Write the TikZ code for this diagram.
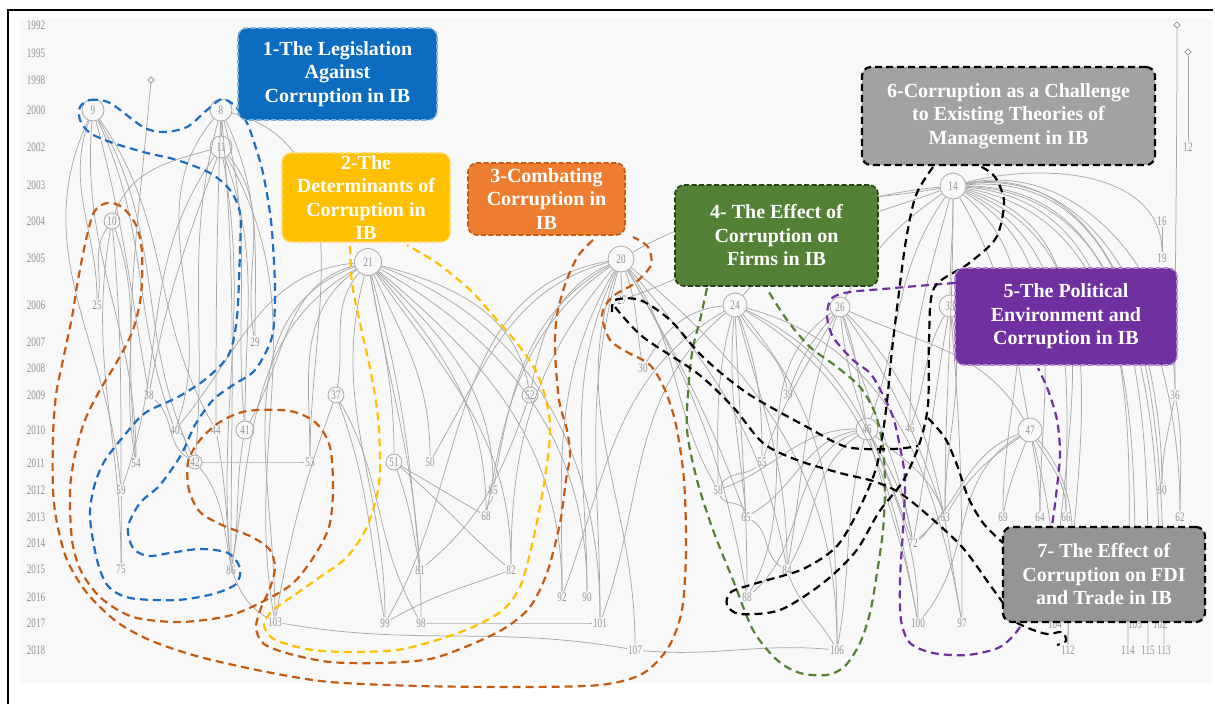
\documentclass[tikz,border=0pt]{standalone}
\usepackage{fontspec}
\setmainfont{Liberation Serif}
\usetikzlibrary{shapes.geometric}
\definecolor{panel}{HTML}{F8F8F8}
\definecolor{lnk}{HTML}{A9A9A9}
\definecolor{lbl}{HTML}{939393}
\definecolor{cblue}{HTML}{1B6FC2}
\definecolor{boxblue}{HTML}{0B6CC0}
\definecolor{cyel}{HTML}{FFC000}
\definecolor{corg}{HTML}{C55A11}
\definecolor{boxorg}{HTML}{ED7D31}
\definecolor{cgrn}{HTML}{548235}
\definecolor{boxgrn}{HTML}{538135}
\definecolor{cpur}{HTML}{7030A0}
\definecolor{boxgry}{HTML}{A2A2A2}
\newcommand{\cnd}[1]{\scalebox{0.7}[1]{#1}}
\tikzset{
EDGE/.style={draw=lnk,line width=0.75pt},
HUB/.style={circle,draw=lnk,line width=0.8pt,fill=panel,inner sep=0pt,minimum size=#1,text=lbl,font=\fontsize{13}{13}\selectfont},
HUB/.default=22pt,
LEAF/.style={inner sep=1pt,text=lbl,font=\fontsize{13}{13}\selectfont},
DOT/.style={diamond,draw=lbl,line width=0.7pt,inner sep=1.6pt},
YEAR/.style={text=lbl,font=\fontsize{13}{13}\selectfont},
CLUSTER/.style={draw=#1,line width=2.2pt,dash pattern=on 8pt off 5pt,line cap=butt},
BOX/.style={rounded corners=9pt,fill=#1,line width=1.6pt,dash pattern=on 5pt off 2.5pt,inner sep=0pt},
BOXTEXT/.style={text=white,align=center,font=\fontsize{20}{23.5}\selectfont\bfseries},
}
\begin{document}
\begin{tikzpicture}[x=1pt,y=1pt]
\useasboundingbox (0,-704) rectangle (1215,0);
\fill[white] (0,-704) rectangle (1215,0);
\fill[panel] (20,-18) rectangle (1212,-683);
\draw[line width=1.8pt] (8,-704) -- (8,-10) -- (1213,-10);

% years
\foreach \yr/\yy in {1992/25,1995/53,1998/80,2000/110,2002/147,2003/185,2004/221,2005/258,2006/305,2007/342,2008/368,2009/395,2010/430,2011/463,2012/490,2013/517,2014/543,2015/569,2016/597,2017/623,2018/650}
  \node[YEAR] (y\yr) at (36,-\yy) {\cnd{\yr}};

% papers
\foreach \nm/\xx/\yy/\sz in {9/93/110/22pt,8/221/110/22pt,11/221/147/22pt,10/112/221/16pt,21/368/262/27pt,20/621/259/26pt,24/735/305/24pt,26/840/307/20pt,14/953/186/26pt,46/867/429/22pt,47/1030/430/24pt,33/950/306/22pt,41/245/430/18pt,37/336/395/16pt,52/530/395/16pt,51/394/462/16pt,42/195/462/14pt}
  \node[HUB=\sz] (n\nm) at (\xx,-\yy) {\cnd{\nm}};
\foreach \nm/\xx/\yy in {25/97/305,29/255/342,38/149/395,40/175/430,44/216/430,54/136/463,59/121/490,75/121/569,86/231/570,103/275/622,53/310/462,50/430/462,85/493/490,68/486/516,81/420/570,82/511/570,92/562/597,90/587/597,99/385/623,98/421/623,101/600/623,107/635/650,27/622/300,30/643/368,39/788/394,45/910/428,55/762/462,58/718/490,65/746/517,63/945/517,72/913/543,84/787/570,88/747/597,100/918/623,97/962/623,106/837/650,69/1003/517,64/1040/517,66/1066/517,60/1162/490,62/1180/517,36/1175/395,16/1162/221,19/1162/258,12/1188/147,112/1068/650,114/1128/650,115/1148/650,113/1164/650,105/1135/624,102/1160/624,104/1055/624}
  \node[LEAF] (n\nm) at (\xx,-\yy) {\cnd{\nm}};
\node[DOT] (n5) at (151,-80) {};
\node[DOT] (n1) at (1177,-25) {};
\node[DOT] (n3) at (1188,-52) {};

% citations
\foreach \a/\b/\o/\i in {25/9/90/250,59/9/95/245,38/9/100/285,40/9/110/295,54/9/90/265,44/9/120/305,42/9/115/300,75/10/90/260,25/10/80/235,59/10/90/275,54/10/100/290,54/5/95/265,10/11/70/195,11/8/90/270,29/8/90/295,41/8/95/285,86/8/90/275,44/8/90/268,42/8/85/255,53/8/90/345,40/8/70/230,41/11/90/290,86/11/95/280,103/11/100/300,59/11/70/235,38/11/80/250,29/11/100/310,75/59/90/270,86/44/95/280,86/41/80/260,103/42/150/310,42/38/150/320,42/40/140/330,53/42/180/0}
  \draw[EDGE] (n\a) to[out=\o,in=\i] (n\b);
\foreach \a/\b/\o/\i in {103/21/90/200,99/21/90/255,98/21/90/280,81/21/95/285,82/21/90/305,92/21/90/320,90/21/90/330,101/21/90/340,51/21/90/280,50/21/90/295,68/21/90/310,85/21/90/315,53/21/90/215,37/21/80/230,41/21/60/195,40/21/50/185,86/21/80/210,52/21/100/345,99/37/100/290,98/37/120/300,103/37/80/250}
  \draw[EDGE] (n\a) to[out=\o,in=\i] (n\b);
\foreach \a/\b/\o/\i in {27/20/90/270,30/20/100/290,101/20/90/255,107/20/90/250,90/20/90/245,92/20/90/240,82/20/90/230,68/20/80/215,88/20/100/300,84/20/100/310,58/20/120/305,65/20/110/300,106/20/90/320,52/20/80/205,85/20/80/210,99/20/60/190,50/20/60/195}
  \draw[EDGE] (n\a) to[out=\o,in=\i] (n\b);
\foreach \a/\b/\o/\i in {88/24/90/272,84/24/90/285,65/24/95/265,58/24/90/255,55/24/90/290,39/24/100/300,106/24/90/310,100/24/100/330,72/24/110/335,30/24/60/185,97/24/100/345,92/24/70/210,101/24/70/220,46/26/100/290,63/26/110/305,72/26/100/285,100/26/90/275,39/26/70/230,84/26/80/250,88/26/60/215,97/26/100/315,47/26/120/335,55/26/70/240}
  \draw[EDGE] (n\a) to[out=\o,in=\i] (n\b);
\foreach \a/\b/\o/\i in {88/46/40/200,84/46/60/215,72/46/100/300,63/46/110/320,100/46/100/285,106/46/80/255,65/46/30/190,58/46/20/180,63/47/60/215,72/47/40/200,64/47/90/280,66/47/90/300,69/47/80/250,112/47/90/310,104/47/90/285,100/47/50/210,63/33/90/280,72/33/80/260,45/33/70/240,97/33/90/275}
  \draw[EDGE] (n\a) to[out=\o,in=\i] (n\b);
\foreach \a/\b/\o/\i in {20/14/30/190,26/14/60/215,46/14/70/235,45/14/90/255,47/14/100/300,63/14/90/270,24/14/50/200,33/14/90/270,27/14/20/185,112/14/90/340,104/14/90/345,114/14/90/355,115/14/90/0,113/14/90/5,105/14/90/350,102/14/90/358,62/14/90/8,60/14/90/10,66/14/90/335,64/14/90/330,69/14/90/320,36/14/90/12,19/14/90/15}
  \draw[EDGE] (n\a) to[out=\o,in=\i] (n\b);
\foreach \a/\b/\o/\i in {12/3/90/270,36/1/90/270,19/16/90/270,62/36/90/280,60/36/90/260,68/51/150/330,81/51/100/290,82/51/140/320,68/85/90/270,99/82/30/200,81/52/40/250,103/107/-10/170,98/101/0/180,107/106/-5/175,72/63/30/200,84/65/150/330,58/55/60/220,65/58/100/290,106/84/120/290}
  \draw[EDGE] (n\a) to[out=\o,in=\i] (n\b);

% clusters
\draw[CLUSTER=cblue] plot[smooth cycle] coordinates {(80,-107) (90,-100) (110,-103) (143,-127) (163,-132) (187,-127) (207,-110) (222,-99) (235,-106) (247,-123) (255,-145) (263,-173) (270,-213) (273,-245) (275,-293) (272,-337) (255,-370) (233,-385) (213,-400) (195,-425) (181,-455) (160,-485) (140,-503) (128,-527) (133,-548) (148,-556) (170,-553) (200,-549) (228,-553) (240,-568) (236,-584) (213,-594) (177,-600) (130,-598) (108,-586) (97,-560) (90,-517) (94,-487) (104,-462) (123,-437) (145,-413) (178,-397) (207,-378) (229,-354) (237,-317) (240,-250) (240,-213) (230,-190) (210,-173) (177,-160) (147,-153) (113,-143) (90,-133) (80,-120)};
\draw[CLUSTER=corg] plot[smooth] coordinates {(593,-240) (578,-256) (566,-282) (557,-315) (555,-350) (559,-400) (567,-430) (570,-455) (566,-480) (560,-523) (547,-573) (530,-607) (505,-628) (470,-645) (430,-659) (380,-663) (330,-662) (290,-654) (264,-644) (256,-628) (261,-608) (270,-588) (275,-568) (270,-550) (252,-537) (222,-525) (200,-512) (189,-490) (188,-462) (200,-440) (220,-422) (247,-411) (290,-411) (316,-423) (330,-447) (333,-490) (329,-527) (313,-558) (292,-584) (262,-602) (228,-616) (180,-622) (133,-617) (101,-598) (81,-571) (72,-540) (70,-490) (75,-455) (85,-420) (100,-390) (118,-360) (133,-330) (141,-295) (142,-252) (136,-225) (122,-207) (107,-203) (94,-212) (86,-240) (78,-280) (72,-317) (63,-360) (56,-395) (53,-437) (53,-490) (57,-523) (67,-560) (87,-593) (117,-622) (152,-641) (200,-657) (267,-672) (330,-682) (420,-686) (520,-687) (600,-685) (642,-674) (668,-648) (682,-610) (686,-550) (684,-480) (676,-425) (665,-390) (650,-365) (627,-352) (610,-340) (602,-315) (612,-297) (635,-283) (651,-265) (648,-247) (633,-237)};
\draw[CLUSTER=cyel] plot[smooth] coordinates {(350,-246) (352,-283) (360,-323) (371,-373) (378,-417) (380,-460) (378,-490) (367,-527) (347,-557) (320,-577) (293,-596) (272,-611) (264,-625) (272,-638) (290,-645) (313,-650) (347,-652) (397,-650) (437,-640) (473,-627) (503,-610) (520,-587) (530,-553) (540,-507) (548,-457) (550,-425) (546,-400) (537,-373) (520,-347) (497,-320) (470,-290) (437,-263) (407,-245)};
\draw[CLUSTER=cgrn] plot[smooth] coordinates {(707,-288) (700,-320) (693,-347) (689,-380) (687,-430) (697,-480) (713,-530) (733,-580) (753,-630) (777,-660) (800,-673) (827,-675) (845,-666) (860,-643) (870,-613) (877,-573) (883,-530) (885,-487) (883,-447) (875,-413) (860,-387) (837,-367) (810,-347) (787,-320) (767,-289)};
\draw[CLUSTER=cpur] plot[smooth] coordinates {(955,-283) (917,-286) (883,-289) (850,-292) (832,-298) (827,-315) (833,-337) (853,-360) (870,-373) (882,-393) (893,-417) (900,-447) (905,-480) (903,-530) (900,-580) (901,-620) (910,-643) (933,-653) (967,-655) (1000,-647) (1020,-627) (1033,-597) (1044,-560) (1052,-525) (1057,-487) (1060,-453) (1057,-420) (1048,-390) (1038,-368)};
\draw[CLUSTER=black] plot[smooth] coordinates {(933,-167) (916,-195) (906,-240) (898,-300) (892,-350) (886,-410) (877,-465) (860,-507) (837,-546) (803,-569) (757,-583) (731,-592) (727,-605) (740,-614) (780,-610) (823,-583) (856,-551) (879,-512) (903,-481) (919,-445) (928,-405) (929,-340) (934,-288) (968,-264) (996,-238) (1004,-202) (995,-177) (980,-166)};
\draw[CLUSTER=black] plot[smooth] coordinates {(928,-418) (945,-438) (957,-465) (968,-497) (983,-523) (1003,-543)};
\draw[CLUSTER=black] plot[smooth] coordinates {(612,-312) (615,-300) (640,-300) (670,-320) (703,-357) (747,-393) (807,-427) (847,-447) (893,-449) (918,-446)};
\draw[CLUSTER=black] plot[smooth] coordinates {(615,-307) (643,-337) (697,-373) (733,-407) (763,-443) (797,-460) (840,-473) (873,-481) (900,-493) (930,-517) (963,-548) (990,-585) (1006,-607)};
\draw[CLUSTER=black] plot[smooth] coordinates {(1005,-617) (1028,-628) (1047,-634) (1062,-632) (1066,-641) (1057,-645)};

% topic boxes
\node[BOX=boxblue,draw=cblue!55!white,minimum width=199pt,minimum height=92pt] (b1) at (337.5,-74) {};
\node[BOXTEXT] (t1) at (b1) {1-The Legislation\\Against\\Corruption in IB};
\node[BOX=cyel,draw=cyel!55!white,minimum width=168pt,minimum height=89pt] (b2) at (366,-197.5) {};
\node[BOXTEXT] (t2) at (b2) {2-The\\Determinants of\\Corruption in\\IB};
\node[BOX=boxorg,draw=corg,minimum width=157pt,minimum height=72pt] (b3) at (546.5,-199) {};
\node[BOXTEXT] (t3) at (b3) {3-Combating\\Corruption in\\IB};
\node[BOX=boxgrn,draw=boxgrn!50!black,minimum width=203pt,minimum height=101pt] (b4) at (776.5,-235.5) {};
\node[BOXTEXT] (t4) at (b4) {4- The Effect of\\Corruption on\\Firms in IB};
\node[BOX=cpur,draw=cpur!55!white,minimum width=222pt,minimum height=97pt] (b5) at (1066,-316.5) {};
\node[BOXTEXT] (t5) at (b5) {5-The Political\\Environment and\\Corruption in IB};
\node[BOX=boxgry,draw=black,line width=2.2pt,dash pattern=on 7pt off 4pt,minimum width=293pt,minimum height=98pt] (b6) at (1008.5,-116) {};
\node[BOXTEXT] (t6) at (b6) {6-Corruption as a Challenge\\to Existing Theories of\\Management in IB};
\node[BOX=boxgry!92!black,draw=black,line width=2.2pt,dash pattern=on 7pt off 4pt,minimum width=202pt,minimum height=95pt] (b7) at (1104,-574.5) {};
\node[BOXTEXT] (t7) at (b7) {7- The Effect of\\Corruption on FDI\\and Trade in IB};
\end{tikzpicture}
\end{document}
